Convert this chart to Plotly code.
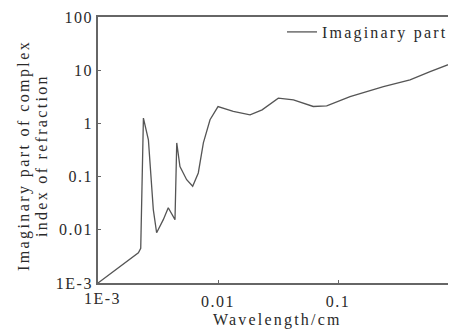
import plotly.graph_objects as go

wavelength = [0.001, 0.00217, 0.00227, 0.00239, 0.00263, 0.00289, 0.00308, 0.0035,
              0.00385, 0.00438, 0.00453, 0.00482, 0.00548, 0.00615, 0.00685, 0.00755,
              0.00858, 0.01, 0.0134, 0.0185, 0.0233, 0.0318, 0.0425, 0.0622, 0.0805,
              0.126, 0.239, 0.398, 0.585, 0.96]
k_imag = [0.001, 0.0037, 0.0045, 1.26, 0.49, 0.024, 0.0088, 0.0155,
          0.026, 0.0155, 0.43, 0.155, 0.0875, 0.066, 0.117, 0.43,
          1.17, 2.07, 1.68, 1.45, 1.8, 2.98, 2.77, 2.08, 2.13,
          3.2, 4.9, 6.6, 9.4, 14.4]
x_ticks = [0.01, 0.1]
x_ticktext = ["0.01", "0.1"]
y_ticks = [0.001, 0.01, 0.1, 1, 10, 100]
y_ticktext = ["1E-3", "0.01", "0.1", "1", "10", "100"]


def sp(t, s):
    return f'<span style="letter-spacing:{s}px">{t}</span>'


font = dict(family="Liberation Serif, Times New Roman, serif", size=16, color="#2a2a2a")

fig = go.Figure()
fig.add_trace(go.Scatter(x=wavelength, y=k_imag, mode="lines", name=sp("Imaginary part", 2.2),
                         line=dict(color="#555", width=1.3)))

# page body has an 8px margin, so the figure is 8px smaller than the window
fig.update_layout(
    width=448, height=321,
    margin=dict(l=90, r=0, t=9, b=46, autoexpand=False),
    paper_bgcolor="white", plot_bgcolor="white",
    font=font,
    showlegend=True,
    legend=dict(x=0.514, y=1.0075, xanchor="left", yanchor="top",
                bgcolor="rgba(0,0,0,0)", itemwidth=30),
)
fig.update_xaxes(type="log", range=[-3, -0.017], showgrid=False, zeroline=False,
                 showline=True, linecolor="#666", linewidth=1.8, mirror=True,
                 ticks="inside", ticklen=3, tickcolor="#666", automargin=False,
                 ticklabelstandoff=3,
                 tickvals=x_ticks, ticktext=[sp(t, 1.5) for t in x_ticktext])
fig.update_yaxes(type="log", range=[-3, 2], showgrid=False, zeroline=False,
                 showline=True, linecolor="#666", linewidth=1.8, automargin=False,
                 ticks="inside", ticklen=3, tickcolor="#666",
                 tickvals=y_ticks, ticktext=[sp(t, 1.5) for t in y_ticktext])
fig.add_annotation(x=-3, y=0, xref="x", yref="paper", text=sp("1E-3", 1.5), showarrow=False,
                   xanchor="center", yanchor="middle", xshift=4, yshift=-15.5, font=font)
fig.add_annotation(x=0, y=0.5, xref="paper", yref="paper", textangle=-90,
                   text=sp("Imaginary part of complex", 2.4),
                   showarrow=False, xanchor="center", yanchor="middle", xshift=-74, yshift=-6,
                   font=font)
fig.add_annotation(x=0, y=0.5, xref="paper", yref="paper", textangle=-90,
                   text=sp("index of refraction", 2.3),
                   showarrow=False, xanchor="center", yanchor="middle", xshift=-57, yshift=-6,
                   font=font)
fig.add_annotation(x=0.5, y=0, xref="paper", yref="paper", text=sp("Wavelength/cm", 2.2),
                   showarrow=False, xanchor="center", yanchor="middle", yshift=-37, font=font)

fig.write_html("out.html")
